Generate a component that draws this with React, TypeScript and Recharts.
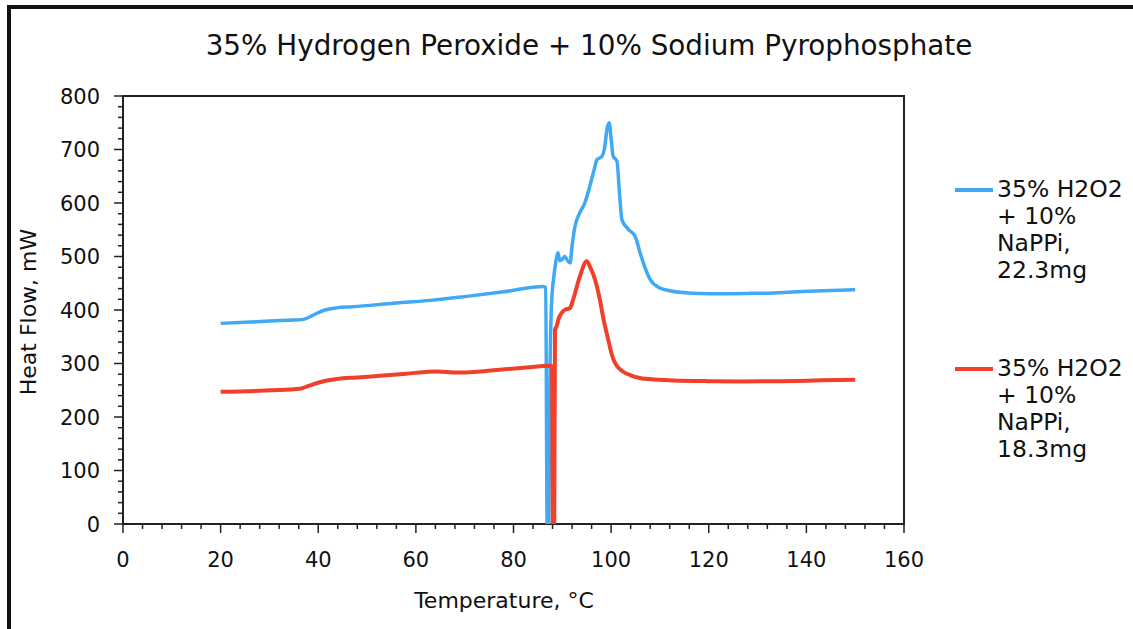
import React from 'react';
import { LineChart, Line, XAxis, YAxis, ReferenceArea, Legend } from 'recharts';

const FONT = '"DejaVu Sans", Verdana, sans-serif';

// Series 1: 22.3 mg sample (blue)
const blueTemp = [
  20, 25, 30, 34, 36.7, 38, 39.5, 41.4, 43.8, 47, 56, 63, 70, 78, 86.1, 86.6,
  86.9, 87.2, 87.5, 87.8, 88.3, 88.7, 89.1, 89.5, 90.0, 90.5, 91.0, 91.6, 92.0,
  92.6, 93.6, 94.6, 95.3, 96.0, 96.6, 97.1, 98.1, 98.6, 99.2, 99.6, 100.0,
  100.4, 101.2, 101.7, 102.2, 103.5, 104.9, 106.0, 106.6, 108, 110, 112, 114.1,
  118, 123, 128, 133.3, 138, 143.4, 150,
];
const blueFlow = [
  375, 377, 379.5, 381, 382, 386, 393, 400, 404, 406, 413, 418, 425, 434, 444, 442,
  0, 0, 300, 413, 465, 492, 507, 492, 495, 500, 493, 488, 520,
  556, 582, 600, 620, 644, 665, 681, 687, 700, 740, 750, 720,
  688, 678, 620, 569, 551, 538, 505, 488, 457, 441, 436, 433,
  431, 430.5, 431, 432, 434, 436, 438,
];

// Series 2: 18.3 mg sample (red)
const redTemp = [
  20, 25, 30, 36.3, 38, 40.7, 43.8, 48, 52.7, 58, 64.3, 68.4, 72, 76.6, 82, 87.5,
  87.9, 88.05, 88.35, 88.5, 88.8, 89.3, 89.9, 90.5, 91.6, 92.2, 93.6, 95.0, 95.8,
  96.7, 97.7, 98.5, 99.4, 100.2, 100.8, 102.4, 104, 105.9, 109, 112.7, 120, 126.4,
  135, 143, 150,
];
const redFlow = [
  247, 248, 250, 253, 258, 266, 271, 274, 277, 281, 285, 283, 284, 288, 292, 296,
  295, 0, 0, 363, 369, 385, 395, 400, 404, 419, 463, 491, 478,
  457, 419, 380, 345, 315, 301, 285, 278, 273, 270, 268.4, 267, 266.5,
  267, 268.5, 269.7,
];

const xMajorTicks = [0, 20, 40, 60, 80, 100, 120, 140, 160];
const yMajorTicks = [0, 100, 200, 300, 400, 500, 600, 700, 800];
const X_MINOR_STEP = 4;
const Y_MINOR_STEP = 20;

const seriesNames = ['35% H2O2 + 10% NaPPi, 22.3mg', '35% H2O2 + 10% NaPPi, 18.3mg'];
const legendLines = [
  ['35% H2O2', '+ 10%', 'NaPPi,', '22.3mg'],
  ['35% H2O2', '+ 10%', 'NaPPi,', '18.3mg'],
];
const BLUE = '#3FA9F5';
const RED = '#F0402A';
const seriesColors = [BLUE, RED];

const blueData = blueTemp.map((t, i) => ({ t, v: blueFlow[i] }));
const redData = redTemp.map((t, i) => ({ t, v: redFlow[i] }));

const xTicks: number[] = [];
for (let v = 0; v <= 160; v += X_MINOR_STEP) xTicks.push(v);
const yTicks: number[] = [];
for (let v = 0; v <= 800; v += Y_MINOR_STEP) yTicks.push(v);

const XTick = (props: any) => {
  const { x, y, payload } = props;
  const v = payload.value;
  const major = xMajorTicks.includes(v);
  return (
    <g>
      <line x1={x} x2={x} y1={y} y2={y + (major ? 9 : 5)} stroke="#222" strokeWidth={1.5} />
      {major && (
        <text x={x} y={y + 43} textAnchor="middle" fontFamily={FONT} fontSize={21} fill="#111">
          {v}
        </text>
      )}
    </g>
  );
};

const YTick = (props: any) => {
  const { x, y, payload } = props;
  const v = payload.value;
  const major = yMajorTicks.includes(v);
  return (
    <g>
      <line x1={x} x2={x - (major ? 9 : 5)} y1={y} y2={y} stroke="#222" strokeWidth={1.5} />
      {major && (
        <text x={x - 23} y={y + 7.5} textAnchor="end" fontFamily={FONT} fontSize={21} fill="#111">
          {v}
        </text>
      )}
    </g>
  );
};

const renderLegend = () => (
  <div style={{ position: 'relative', width: 180, height: 300, fontFamily: FONT, fontSize: 23.5, color: '#111' }}>
    {legendLines.map((lines, i) => (
      <div key={i} style={{ position: 'absolute', left: 0, top: i * 179 }}>
        <div
          style={{
            position: 'absolute', left: 0, top: 12, width: 38, height: 4,
            background: seriesColors[i],
          }}
        />
        <div style={{ position: 'absolute', left: 42, top: 0, lineHeight: '27px', whiteSpace: 'pre' }}>
          {lines.join('\n')}
        </div>
      </div>
    ))}
  </div>
);

export default function App() {
  return (
    <div style={{ position: 'absolute', left: 0, top: 0, width: 1133, height: 629, overflow: 'hidden', background: '#fff' }}>
      <div
        style={{
          position: 'absolute', left: 7, top: 5, width: 1200, height: 700,
          borderLeft: '4px solid #111', borderTop: '4px solid #111',
        }}
      />
      <div style={{ position: 'absolute', left: 0, top: 0 }}>
        <LineChart width={1133} height={629} margin={{ top: 96, right: 229, bottom: 45, left: 0 }}>
          <ReferenceArea x1={0} x2={160} y1={0} y2={800} fill="none" stroke="#222" strokeWidth={2} />
          <XAxis
            type="number"
            dataKey="t"
            domain={[0, 160]}
            ticks={xTicks}
            interval={0}
            height={60}
            tickSize={0}
            tickMargin={0}
            axisLine={false}
            tickLine={false}
            tick={<XTick />}
            allowDataOverflow
          />
          <YAxis
            type="number"
            domain={[0, 800]}
            ticks={yTicks}
            interval={0}
            width={123}
            tickSize={0}
            tickMargin={0}
            axisLine={false}
            tickLine={false}
            tick={<YTick />}
            allowDataOverflow
          />
          <Legend
            layout="vertical"
            align="center"
            verticalAlign="middle"
            content={renderLegend}
            wrapperStyle={{ left: 955, top: 176, width: 180, height: 300 }}
          />
          <Line
            data={blueData}
            dataKey="v"
            name={seriesNames[0]}
            type="monotone"
            stroke={BLUE}
            strokeWidth={3.5}
            dot={false}
            activeDot={false}
            isAnimationActive={false}
          />
          <Line
            data={redData}
            dataKey="v"
            name={seriesNames[1]}
            type="monotone"
            stroke={RED}
            strokeWidth={4}
            dot={false}
            activeDot={false}
            isAnimationActive={false}
          />
        </LineChart>
      </div>
      <svg width={1133} height={629} style={{ position: 'absolute', left: 0, top: 0, pointerEvents: 'none' }}>
        <text x={589} y={55} textAnchor="middle" fontFamily={FONT} fontSize={27.8} fill="#111">
          35% Hydrogen Peroxide + 10% Sodium Pyrophosphate
        </text>
        <text x={504} y={608} textAnchor="middle" fontFamily={FONT} fontSize={22} fill="#111">
          Temperature, °C
        </text>
        <text
          x={28}
          y={312}
          textAnchor="middle"
          dominantBaseline="central"
          transform="rotate(-90, 28, 312)"
          fontFamily={FONT}
          fontSize={22}
          fill="#111"
        >
          Heat Flow, mW
        </text>
      </svg>
    </div>
  );
}
